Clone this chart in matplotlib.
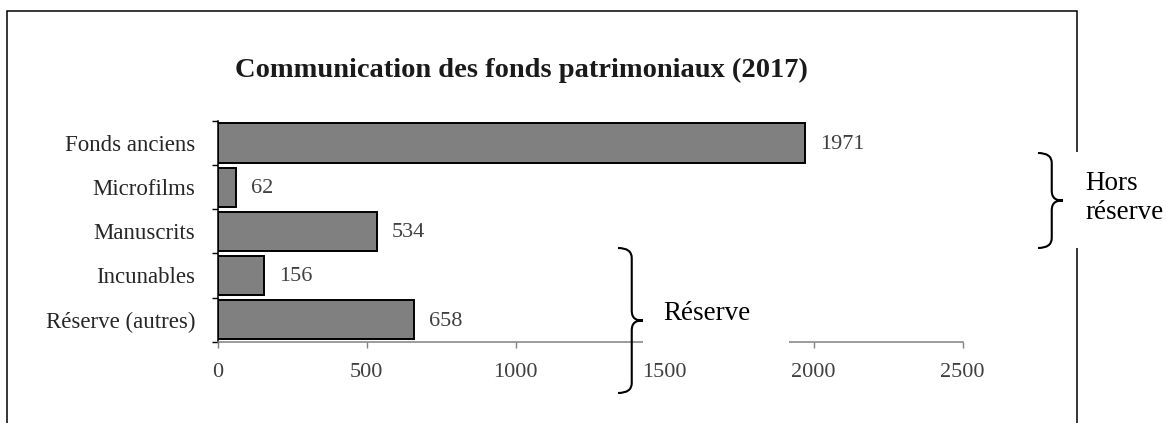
import matplotlib
matplotlib.use("Agg")
import matplotlib.pyplot as plt
from matplotlib.path import Path
from matplotlib.patches import PathPatch, Rectangle

categories = ["Fonds anciens", "Microfilms", "Manuscrits", "Incunables", "Réserve (autres)"]
values = [1971, 62, 534, 156, 658]
xticks = [0, 500, 1000, 1500, 2000, 2500]

title = "Communication des fonds patrimoniaux (2017)"
group_labels = ["Hors\nréserve", "Réserve"]

plt.rcParams['font.family'] = ['Liberation Serif', 'DejaVu Serif']

W, H = 1167, 423
fig = plt.figure(figsize=(W / 100, H / 100), dpi=100)
fig.patch.set_facecolor('white')

# plot area in pixels: x 217.7 -> 962.7, y 121 -> 341.7
ax = fig.add_axes([217.7 / W, 1 - 341.7 / H, (962.7 - 217.7) / W, (341.7 - 121) / H])
pos = list(range(len(categories)))
ax.barh(pos, values, height=0.89, color='#808080', edgecolor='black', linewidth=1.4, zorder=2)
ax.set_xlim(0, 2500)
ax.set_ylim(len(categories) - 0.5, -0.5)
ax.set_xticks(xticks)
ax.set_xticklabels([str(t) for t in xticks], fontsize=16, color='#404040')
ax.set_yticks(pos)
ax.set_yticklabels(categories, fontsize=16.5, color='#262626')
ax.set_yticks([p - 0.5 for p in pos] + [len(categories) - 0.5], minor=True)
ax.tick_params(axis='y', which='major', length=0, pad=16)
ax.tick_params(axis='y', which='minor', length=4.3, width=1, color='black', direction='out')
ax.tick_params(axis='x', which='major', length=4.3, width=1, color='#808080', direction='out', pad=11)
for s in ['top', 'right']:
    ax.spines[s].set_visible(False)
ax.spines['left'].set_color('black')
ax.spines['left'].set_linewidth(1.1)
ax.spines['bottom'].set_color('#808080')
ax.spines['bottom'].set_linewidth(1.1)
ax.patch.set_visible(False)

for p, v in zip(pos, values):
    ax.annotate(str(v), (v, p), xytext=(11, -1), textcoords='offset points',
                va='center', ha='left', fontsize=16, color='#404040')

# overlay in pixel coordinates for frame, braces and group labels
ov = fig.add_axes([0, 0, 1, 1], zorder=5)
ov.set_xlim(0, W)
ov.set_ylim(H, 0)
ov.axis('off')
ov.patch.set_visible(False)

# chart frame
ov.plot([7, 7, 1077, 1077], [H + 5, 11, 11, H + 5], color='black', lw=1.1, solid_joinstyle='miter')

# white text boxes hiding what sits behind them
ov.add_patch(Rectangle((643, 270), 146, 82, facecolor='white', edgecolor='none', zorder=3))
ov.add_patch(Rectangle((1068, 152), 99, 96, facecolor='white', edgecolor='none', zorder=3))


def brace(x0, x1, y0, y1):
    xs = x0 + 0.55 * (x1 - x0)
    ym = (y0 + y1) / 2
    r = 10
    verts = [(x0, y0), (xs, y0), (xs, y0 + r),
             (xs, ym - r),
             (xs, ym - 2), (x1 - 7, ym), (x1, ym),
             (x1 - 7, ym), (xs, ym + 2), (xs, ym + r),
             (xs, y1 - r),
             (xs, y1), (x0, y1)]
    codes = [Path.MOVETO, Path.CURVE3, Path.CURVE3,
             Path.LINETO,
             Path.CURVE4, Path.CURVE4, Path.CURVE4,
             Path.CURVE4, Path.CURVE4, Path.CURVE4,
             Path.LINETO,
             Path.CURVE3, Path.CURVE3]
    ov.add_patch(PathPatch(Path(verts, codes), facecolor='none', edgecolor='black', lw=1.5, zorder=4))


brace(1038, 1063, 153, 248)
brace(618, 643, 248, 393)

ov.text(1085, 198, group_labels[0], fontsize=19.5, ha='left', va='center', linespacing=1.25, zorder=5)
ov.text(663, 314, group_labels[1], fontsize=19.5, ha='left', va='center', zorder=5)

ov.text(521, 70, title, fontsize=20.5, fontweight='bold', ha='center', va='center', color='#1a1a1a')

fig.savefig("out.png", dpi=100)
